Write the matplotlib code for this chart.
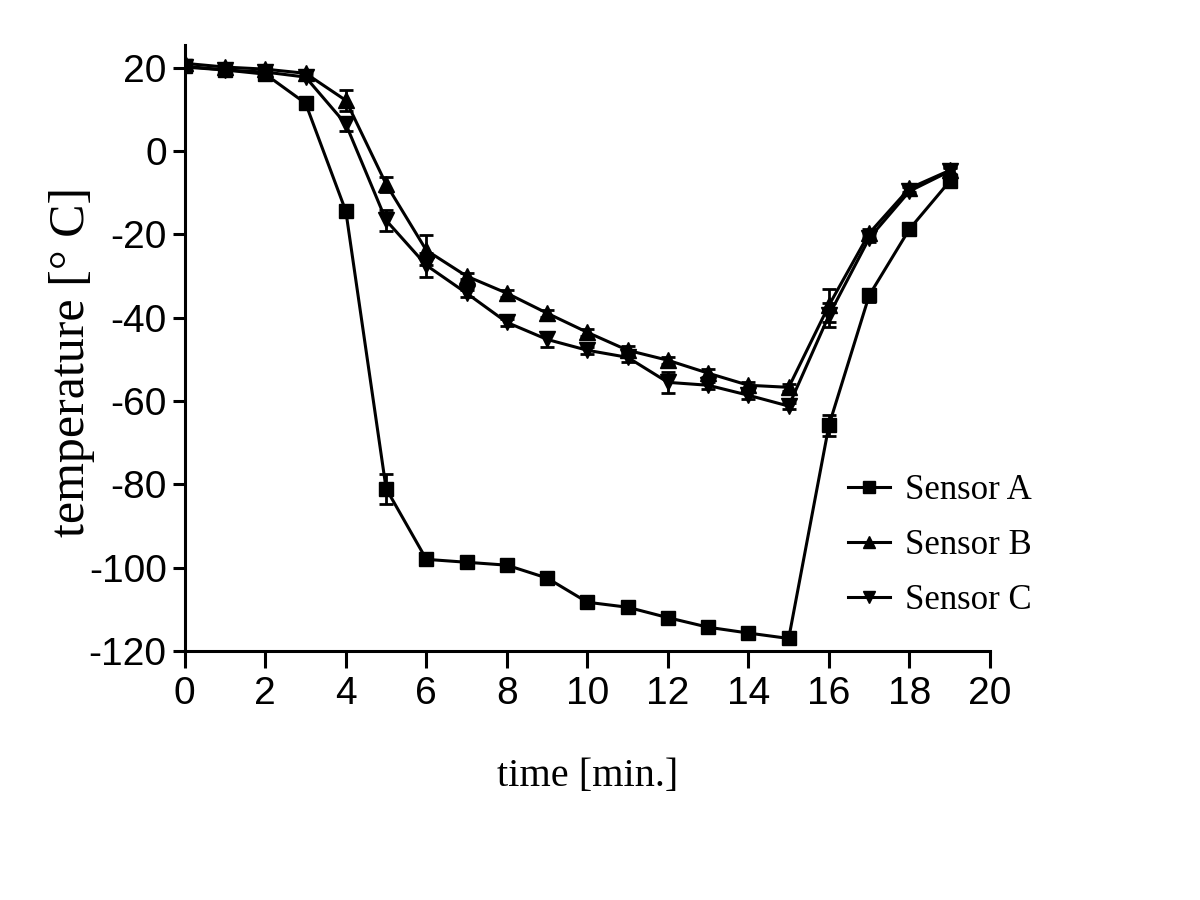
import matplotlib
matplotlib.use("Agg")
import matplotlib.pyplot as plt
from matplotlib.lines import Line2D

plt.rcParams["axes.unicode_minus"] = False

time_min = list(range(20))
sensor_a = [20.4, 19.5, 18.5, 11.5, -14.4, -81.0, -98.0, -98.7, -99.4, -102.5,
            -108.3, -109.5, -112.0, -114.3, -115.7, -117.0, -65.8, -34.6, -18.7, -7.2]
sensor_a_err = [1.0, 0.8, 0.8, 1.2, 1.0, 3.6, 1.0, 0.8, 0.8, 1.2,
                1.2, 1.0, 1.0, 1.0, 0.8, 1.0, 2.5, 1.5, 1.2, 1.0]
sensor_b = [21.1, 20.2, 19.7, 18.7, 12.2, -7.9, -23.8, -30.0, -34.1, -38.9,
            -43.5, -47.8, -50.2, -53.3, -56.2, -56.7, -37.0, -19.7, -8.9, -4.6]
sensor_b_err = [0.8, 0.8, 0.8, 0.8, 2.5, 1.8, 3.6, 0.8, 0.8, 0.8,
                0.8, 1.0, 0.8, 1.0, 0.8, 0.8, 4.0, 1.0, 1.0, 0.8]
sensor_c = [20.2, 19.5, 19.0, 17.8, 6.5, -16.6, -27.4, -34.1, -41.1, -45.2,
            -47.8, -49.5, -55.5, -56.2, -58.6, -61.2, -39.4, -20.9, -9.6, -4.8]
sensor_c_err = [0.8, 0.8, 0.8, 0.8, 1.7, 2.6, 2.9, 0.8, 0.8, 1.8,
                0.8, 1.0, 2.5, 0.8, 1.0, 0.8, 2.9, 1.0, 1.0, 0.8]
series_labels = ["Sensor A", "Sensor B", "Sensor C"]
x_ticks = [0, 2, 4, 6, 8, 10, 12, 14, 16, 18, 20]
y_ticks = [20, 0, -20, -40, -60, -80, -100, -120]

fig = plt.figure(figsize=(12, 9), dpi=100)
ax = fig.add_axes([0.154, 0.2767, 0.671, 0.6733])

markers = ["s", "^", "v"]
msizes = [10, 11, 11]
handles = []
for vals, errs, m, ms, lab in zip([sensor_a, sensor_b, sensor_c],
                                  [sensor_a_err, sensor_b_err, sensor_c_err],
                                  markers, msizes, series_labels):
    ax.errorbar(time_min, vals, yerr=errs, color="black", marker=m,
                markersize=ms, linewidth=2.2, elinewidth=2.0, capsize=5,
                capthick=2.0)
    handles.append(Line2D([], [], color="black", marker=m, markersize=ms * 0.8,
                          linewidth=2.2, label=lab))

ax.set_xlim(0, 20)
ax.set_ylim(-120, 25.5)
ax.set_xticks(x_ticks)
ax.set_yticks(y_ticks)
ax.spines["top"].set_visible(False)
ax.spines["right"].set_visible(False)
for s in ["left", "bottom"]:
    ax.spines[s].set_linewidth(2.2)
ax.tick_params(axis="x", direction="out", length=12, width=2.2, labelsize=28, pad=6)
ax.tick_params(axis="y", direction="out", length=9, width=2.2, labelsize=28, pad=4)
for t in ax.get_xticklabels() + ax.get_yticklabels():
    t.set_family("Liberation Sans")

ax.set_xlabel("time [min.]", family="Liberation Serif", fontsize=29)
ax.xaxis.set_label_coords(0.5, -0.177)
ax.set_ylabel("temperature [° C]", family="Liberation Serif", fontsize=36)
ax.yaxis.set_label_coords(-0.112, 0.477)

leg = fig.legend(handles=handles, loc="upper left",
                 bbox_to_anchor=(848 / 1200, 1 - 474 / 900),
                 frameon=False, borderpad=0, borderaxespad=0,
                 prop={"family": "Liberation Serif", "size": 25},
                 handlelength=1.2, handletextpad=0.45, labelspacing=0.64)

fig.savefig("out.png", dpi=100)
